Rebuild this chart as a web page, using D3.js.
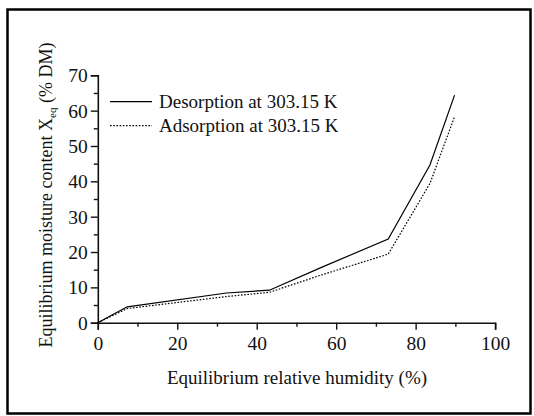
<!DOCTYPE html>
<html>
<head>
<meta charset="utf-8">
<script src="https://cdn.jsdelivr.net/npm/d3@7"></script>
<style>
  html, body { margin: 0; padding: 0; background: #fff; }
  svg { display: block; }
</style>
</head>
<body>
<svg id="chart" width="534" height="416"></svg>
<script>
// Relative humidity points (%) of the saturated salt solutions
const humidity = [0, 7.4, 32.4, 43.2, 56.0, 73.1, 83.6, 89.8];
// Equilibrium moisture content (% dry matter)
const desorption = [0, 4.5, 8.4, 9.2, 15.5, 23.7, 44.6, 64.4];
const adsorption = [0, 4.0, 7.4, 8.6, 13.4, 19.4, 39.4, 58.3];

const seriesNames = ["Desorption at 303.15 K", "Adsorption at 303.15 K"];
const xMajorTicks = [0, 20, 40, 60, 80, 100];
const xMinorTicks = [10, 30, 50, 70, 90];
const yMajorTicks = [0, 10, 20, 30, 40, 50, 60, 70];
const yMinorTicks = [5, 15, 25, 35, 45, 55, 65];

const FONT = "Liberation Serif";
const INK = "#111";

const svg = d3.select("#chart")
  .attr("font-family", FONT);

// outer frame
svg.append("rect")
  .attr("x", 7.5).attr("y", 9.5)
  .attr("width", 523).attr("height", 404)
  .attr("fill", "none").attr("stroke", "#000").attr("stroke-width", 2.5);

const x = d3.scaleLinear().domain([0, 100]).range([97.8, 495.1]);
const y = d3.scaleLinear().domain([0, 70]).range([322.7, 75.3]);

const fmt = d3.format("d");

// x axis: major ticks with labels, minor ticks without
const gx = svg.append("g").attr("transform", `translate(0,${y(0)})`);
gx.call(d3.axisBottom(x).tickValues(xMajorTicks).tickFormat(fmt).tickSize(7).tickPadding(6));
const gxMinor = svg.append("g").attr("transform", `translate(0,${y(0)})`);
gxMinor.call(d3.axisBottom(x).tickValues(xMinorTicks).tickFormat("").tickSize(4));
gxMinor.select(".domain").remove();

// y axis
const gy = svg.append("g").attr("transform", `translate(${x(0)},0)`);
gy.call(d3.axisLeft(y).tickValues(yMajorTicks).tickFormat(fmt).tickSize(7).tickPadding(3));
const gyMinor = svg.append("g").attr("transform", `translate(${x(0)},0)`);
gyMinor.call(d3.axisLeft(y).tickValues(yMinorTicks).tickFormat("").tickSize(4));
gyMinor.select(".domain").remove();

[gx, gxMinor, gy, gyMinor].forEach(g => g.attr("font-family", FONT).attr("font-size", 19.5));
svg.selectAll(".domain").attr("stroke", INK).attr("stroke-width", 1.6);
svg.selectAll(".tick line").attr("stroke", INK).attr("stroke-width", 1.4);
svg.selectAll(".tick text").attr("font-family", FONT).attr("fill", INK);
gx.selectAll(".tick text").attr("dy", "0.75em");
gy.selectAll(".tick text").attr("dy", "0.34em");

// curves
const line = d3.line()
  .x((d, i) => x(humidity[i]))
  .y(d => y(d));

svg.append("path").datum(desorption)
  .attr("d", line).attr("fill", "none")
  .attr("stroke", "#000").attr("stroke-width", 1.2);

svg.append("path").datum(adsorption)
  .attr("d", line).attr("fill", "none")
  .attr("stroke", "#000").attr("stroke-width", 1.2)
  .attr("stroke-dasharray", "1.6,1.6");

// legend
const legend = svg.append("g");
const legendRows = [
  { name: seriesNames[0], dash: null, yLine: 101.7, yText: 108 },
  { name: seriesNames[1], dash: "1.6,1.6", yLine: 125.7, yText: 132 }
];
legendRows.forEach(r => {
  legend.append("line")
    .attr("x1", 110).attr("x2", 152)
    .attr("y1", r.yLine).attr("y2", r.yLine)
    .attr("stroke", "#000").attr("stroke-width", 1.2)
    .attr("stroke-dasharray", r.dash);
  legend.append("text")
    .attr("x", 159).attr("y", r.yText)
    .attr("font-family", FONT).attr("font-size", 19).attr("fill", INK)
    .text(r.name);
});

// axis titles
svg.append("text")
  .attr("x", 297).attr("y", 384)
  .attr("text-anchor", "middle")
  .attr("font-family", FONT).attr("font-size", 19).attr("fill", INK)
  .text("Equilibrium relative humidity (%)");

const yTitle = svg.append("text")
  .attr("transform", "translate(52,195) rotate(-90)")
  .attr("text-anchor", "middle")
  .attr("font-family", FONT).attr("font-size", 18).attr("fill", INK);
yTitle.append("tspan").text("Equilibrium moisture content X");
yTitle.append("tspan").attr("font-size", 11).attr("dy", 4).text("eq");
yTitle.append("tspan").attr("dy", -4).text(" (% DM)");
</script>
</body>
</html>
